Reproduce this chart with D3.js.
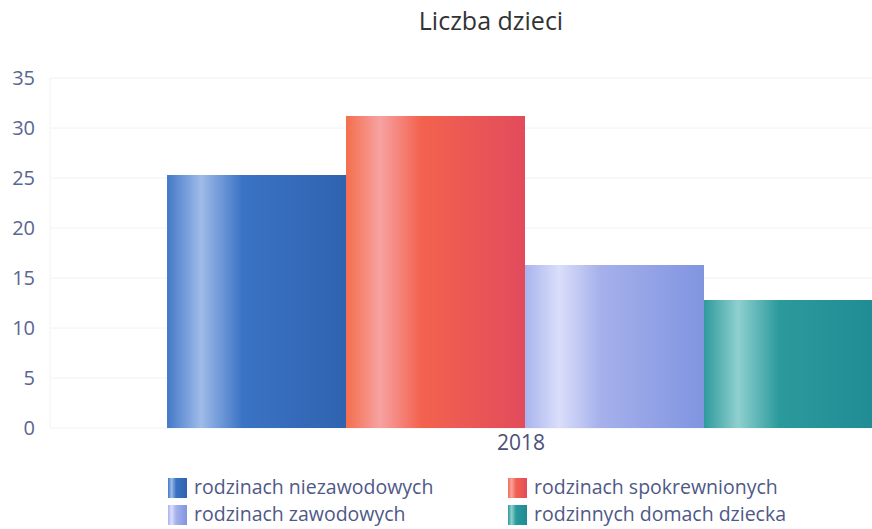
<!DOCTYPE html>
<html>
<head>
<meta charset="utf-8">
<script src="https://cdn.jsdelivr.net/npm/d3@7"></script>
<style>
  body { margin: 0; background: #fff; }
  svg { font-family: "Open Sans", sans-serif; }
</style>
</head>
<body>
<div id="chart"></div>
<script>
let years = ["2018"];
let seriesNames = ["rodzinach niezawodowych", "rodzinach spokrewnionych", "rodzinach zawodowych", "rodzinnych domach dziecka"];
let seriesValues = [25.3, 31.2, 16.3, 12.8];
let yTicks = [0, 5, 10, 15, 20, 25, 30, 35];

// gradient stops per series: left, highlight, mid, right
let palettes = [
  ["#4279c8", "#9fbbe8", "#3b73c4", "#2f63b0"],
  ["#f46e4c", "#f6a2a2", "#f3624e", "#e24b5c"],
  ["#a8b4ee", "#dadefa", "#a6b1ec", "#8094e0"],
  ["#2e9a9c", "#8fd0cf", "#2b9a9c", "#1f8a94"]
];

let svgWidth = 872;
let svgHeight = 529;
let margin = { top: 78, left: 50, bottom: 101 };
let height = svgHeight - margin.top - margin.bottom;

let svg = d3.select("#chart").append("svg")
  .attr("width", svgWidth)
  .attr("height", svgHeight);

let defs = svg.append("defs");
palettes.forEach((p, i) => {
  let g = defs.append("linearGradient")
    .attr("id", "grad" + i)
    .attr("x1", "0").attr("x2", "1").attr("y1", "0").attr("y2", "0");
  g.append("stop").attr("offset", "0").attr("stop-color", p[0]);
  g.append("stop").attr("offset", "0.19").attr("stop-color", p[1]);
  g.append("stop").attr("offset", "0.42").attr("stop-color", p[2]);
  g.append("stop").attr("offset", "1").attr("stop-color", p[3]);
});

// title
svg.append("text")
  .attr("x", 491)
  .attr("y", 30)
  .attr("text-anchor", "middle")
  .style("font-size", "25px")
  .style("fill", "#333")
  .text("Liczba dzieci");

let chartGroup = svg.append("g")
  .attr("transform", `translate(0, ${margin.top})`);

// the original plot is wider than the picture, bars run off the right edge
let x0 = d3.scaleBand()
  .domain(years)
  .range([margin.left, 1000])
  .paddingInner(0.1405)
  .paddingOuter(0.1405);

let x1 = d3.scaleBand()
  .domain(seriesNames)
  .range([0, x0.bandwidth()]);

let yScale = d3.scaleLinear()
  .domain([0, 35])
  .range([height, 0]);

// gridlines
chartGroup.append("g")
  .selectAll("line")
  .data(yTicks)
  .enter()
  .append("line")
  .attr("x1", margin.left)
  .attr("x2", svgWidth)
  .attr("y1", d => yScale(d))
  .attr("y2", d => yScale(d))
  .attr("stroke", "#f1f2f7")
  .attr("stroke-width", 1);

chartGroup.append("line")
  .attr("x1", margin.left).attr("x2", margin.left)
  .attr("y1", yScale(35)).attr("y2", yScale(0))
  .attr("stroke", "#f1f2f7");

// y axis labels
let leftAxis = d3.axisLeft(yScale).tickValues(yTicks).tickSize(0).tickPadding(12);
let yAxis = chartGroup.append("g")
  .attr("transform", `translate(${margin.left - 3}, 0)`)
  .call(leftAxis);
yAxis.select(".domain").remove();
yAxis.selectAll("text")
  .style("font-size", "20px")
  .style("font-family", "'Open Sans', sans-serif")
  .attr("fill", "#5a6592");

// bars
let groups = chartGroup.selectAll(".yearGroup")
  .data(years)
  .enter()
  .append("g")
  .attr("transform", d => `translate(${x0(d)}, 0)`);

groups.selectAll("rect")
  .data(seriesNames.map((name, i) => ({ name: name, value: seriesValues[i], i: i })))
  .enter()
  .append("rect")
  .attr("x", d => x1(d.name))
  .attr("y", d => yScale(d.value))
  .attr("width", x1.bandwidth())
  .attr("height", d => height - yScale(d.value))
  .attr("fill", d => `url(#grad${d.i})`);

// x axis label
let bottomAxis = d3.axisBottom(x0).tickSize(0).tickPadding(7);
let xAxis = chartGroup.append("g")
  .attr("transform", `translate(-4, ${height})`)
  .call(bottomAxis);
xAxis.select(".domain").remove();
xAxis.selectAll("text")
  .style("font-size", "21px")
  .style("font-family", "'Open Sans', sans-serif")
  .attr("fill", "#4a5078");

// legend
let legendPos = [[168, 478], [508, 478], [168, 505], [508, 505]];
let legend = svg.append("g");
seriesNames.forEach((name, i) => {
  let item = legend.append("g")
    .attr("transform", `translate(${legendPos[i][0]}, ${legendPos[i][1]})`);
  item.append("rect")
    .attr("width", 19)
    .attr("height", 20)
    .attr("fill", `url(#grad${i})`);
  item.append("text")
    .attr("x", 26)
    .attr("y", 16)
    .style("font-size", "19.5px")
    .style("fill", "#4f5887")
    .text(name);
});
</script>
</body>
</html>
